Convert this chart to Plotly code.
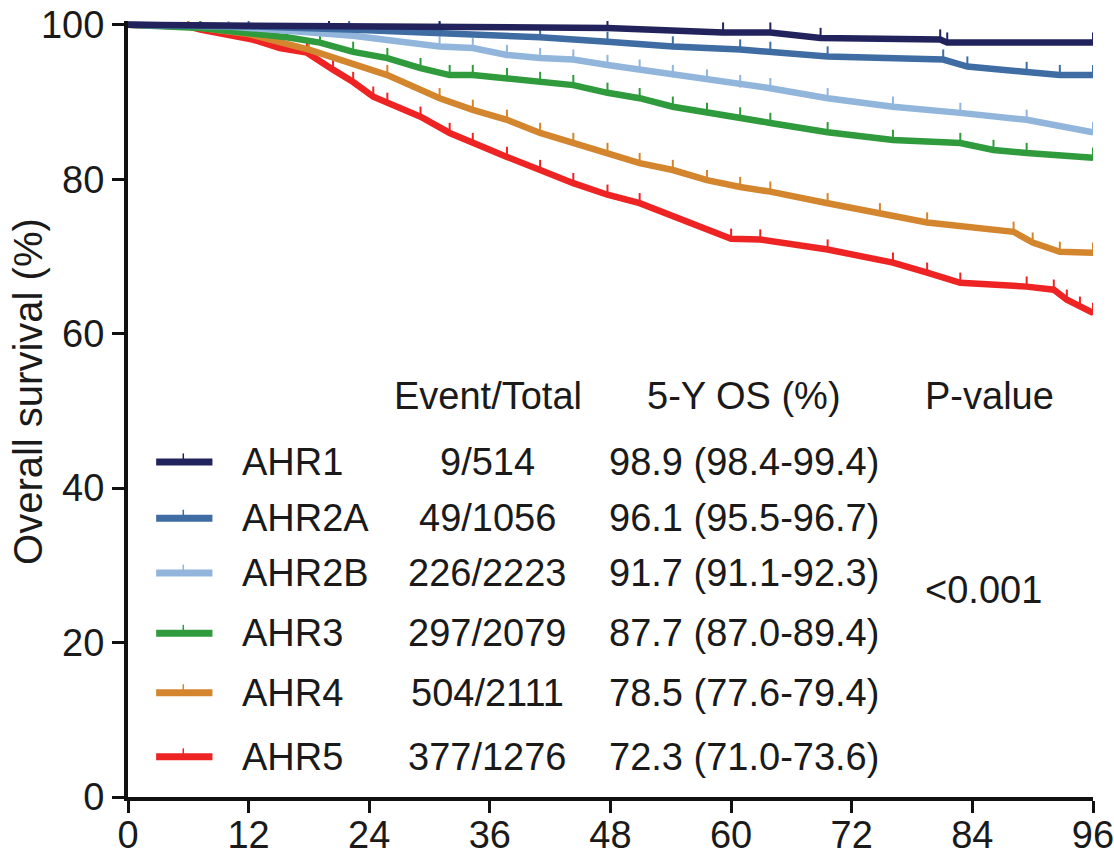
import plotly.graph_objects as go

# data (months, % surviving)
groups = ["AHR1", "AHR2A", "AHR2B", "AHR3", "AHR4", "AHR5"]
colors = ["#22235c", "#3e6ca3", "#92b5dc", "#2f9b3d", "#d4862f", "#ee2424"]
events = ["9/514", "49/1056", "226/2223", "297/2079", "504/2111", "377/1276"]
os5y = ["98.9 (98.4-99.4)", "96.1 (95.5-96.7)", "91.7 (91.1-92.3)",
        "87.7 (87.0-89.4)", "78.5 (77.6-79.4)", "72.3 (71.0-73.6)"]
p_value = "<0.001"

ahr1_x = [0, 20, 31, 47.7, 59.2, 63.9, 68.9, 80.8, 81.5, 96]
ahr1_y = [100, 99.9, 99.7, 99.6, 99.0, 99.0, 98.3, 98.1, 97.7, 97.7]

ahr2a_x = [0, 12, 22, 31, 41, 47.7, 54.2, 60.9, 63.9, 69.6, 81.1, 83.5, 89.4, 92.7, 96]
ahr2a_y = [100, 99.8, 99.4, 99.0, 98.4, 97.8, 97.2, 96.8, 96.5, 95.9, 95.5, 94.6, 93.9, 93.5, 93.5]

ahr2b_x = [0, 10, 22.4, 31, 34.3, 37.7, 41, 44.3, 47.7, 50.9, 54.2, 57.6, 60.9, 63.9, 69.6, 76.1, 82.8, 89.4, 96]
ahr2b_y = [100, 99.8, 98.6, 97.2, 97.0, 96.1, 95.7, 95.5, 94.8, 94.2, 93.5, 92.9, 92.2, 91.8, 90.5, 89.4, 88.6, 87.7, 86.1]

ahr3_x = [0, 7.2, 15.8, 19.1, 22.4, 25.8, 29.1, 32, 34.3, 37.7, 41, 44.3, 47.7, 50.9, 54.2, 57.6,
          60.9, 63.9, 69.6, 76.1, 82.8, 86.1, 89.4, 96]
ahr3_y = [100, 99.6, 98.4, 97.7, 96.5, 95.7, 94.4, 93.5, 93.5, 93.1, 92.6, 92.2, 91.2, 90.5, 89.4, 88.6,
          88.0, 87.3, 86.1, 85.1, 84.7, 83.8, 83.4, 82.8]

ahr4_x = [0, 6, 12, 18, 25.8, 31, 34.3, 37.7, 41, 44.3, 47.7, 50.9, 54.2, 57.6, 60.9, 63.9,
          69.6, 74.8, 79.5, 88.1, 90.0, 92.7, 96]
ahr4_y = [100, 99.8, 98.8, 96.8, 93.5, 90.5, 89.0, 87.7, 86.0, 84.7, 83.4, 82.1, 81.2, 79.9, 79.0, 78.4,
          76.9, 75.6, 74.4, 73.2, 71.8, 70.6, 70.5]

ahr5_x = [0, 6, 7.2, 12.4, 15.1, 17.8, 20.4, 22.4, 24.4, 25.8, 29.1, 32, 34.3, 37.7, 41, 44.3, 47.7,
          50.9, 60, 62.9, 69.6, 76.1, 79.5, 82.8, 89.4, 92.1, 93.4, 94.7, 96]
ahr5_y = [100, 99.8, 99.4, 98.1, 97.0, 96.4, 94.2, 92.6, 90.7, 89.9, 88.1, 86.0, 84.7, 82.9, 81.2, 79.5, 78.0,
          76.9, 72.3, 72.2, 70.9, 69.2, 67.9, 66.6, 66.1, 65.7, 64.4, 63.5, 62.7]

xs = [ahr1_x, ahr2a_x, ahr2b_x, ahr3_x, ahr4_x, ahr5_x]
ys = [ahr1_y, ahr2a_y, ahr2b_y, ahr3_y, ahr4_y, ahr5_y]

x_ticks = [0, 12, 24, 36, 48, 60, 72, 84, 96]
y_ticks = [0, 20, 40, 60, 80, 100]

# table rows (y in data units)
header_y = 51.9
row_y = [43.4, 36.1, 29.0, 21.2, 13.5, 5.2]

FONT = "Liberation Sans, Arial, sans-serif"
TXT = dict(family=FONT, size=38, color="#1a1a1a")

fig = go.Figure()

# draw lower curves first so upper ones sit on top
for name, x, y, c in reversed(list(zip(groups, xs, ys, colors))):
    fig.add_trace(go.Scatter(
        x=x, y=y, mode="lines", name=name,
        line=dict(color=c, width=6.5), showlegend=False,
    ))
    fig.add_trace(go.Scatter(
        x=x[1:], y=[v + 0.5 for v in y[1:]], mode="markers", showlegend=False,
        marker=dict(symbol="line-ns", size=9, color=c, line=dict(color=c, width=2)),
        hoverinfo="skip",
    ))

# table-style legend
for name, ev, os_txt, c, ry in zip(groups, events, os5y, colors, row_y):
    fig.add_shape(type="line", x0=2.8, x1=8.4, y0=ry, y1=ry,
                  line=dict(color=c, width=7))
    fig.add_shape(type="line", x0=5.5, x1=5.5, y0=ry, y1=ry + 1.1,
                  line=dict(color=c, width=1.5))
    fig.add_annotation(x=11.1, y=ry, text=name, xanchor="left", showarrow=False, font=TXT)
    fig.add_annotation(x=35.8, y=ry, text=ev, xanchor="center", showarrow=False, font=TXT)
    fig.add_annotation(x=61.3, y=ry, text=os_txt, xanchor="center", showarrow=False, font=TXT)

for txt, x, anchor in [("Event/Total", 35.8, "center"), ("5-Y OS (%)", 61.3, "center"),
                       ("P-value", 79.1, "left")]:
    fig.add_annotation(x=x, y=header_y, text=txt, xanchor=anchor, showarrow=False, font=TXT)

fig.add_annotation(x=79.1, y=26.8, text=p_value, xanchor="left", showarrow=False, font=TXT)

# y axis title
fig.add_annotation(xref="paper", yref="paper", x=-0.1036, y=0.522,
                   text="Overall survival (%)", textangle=-90, showarrow=False,
                   xanchor="center", yanchor="middle",
                   font=dict(family=FONT, size=40, color="#1a1a1a"))

axis_style = dict(
    ticks="outside", ticklen=12, tickwidth=3, tickcolor="#111",
    showline=True, linewidth=4, linecolor="#111",
    showgrid=False, zeroline=False, automargin=False,
    ticklabeloverflow="allow", tickfont=TXT,
)
fig.update_xaxes(range=[0, 96], tickvals=x_ticks, ticklabelstandoff=-11, **axis_style)
fig.update_yaxes(range=[0, 100.5], tickvals=y_ticks, **axis_style)

fig.update_layout(
    width=1114, height=858,
    margin=dict(l=128, r=21, t=21, b=61),
    plot_bgcolor="white", paper_bgcolor="white",
)

# drop the default page margin so the figure fills the window exactly
fig.write_html("out.html", config={"displayModeBar": False},
               post_script="document.body.style.margin='0px';")
